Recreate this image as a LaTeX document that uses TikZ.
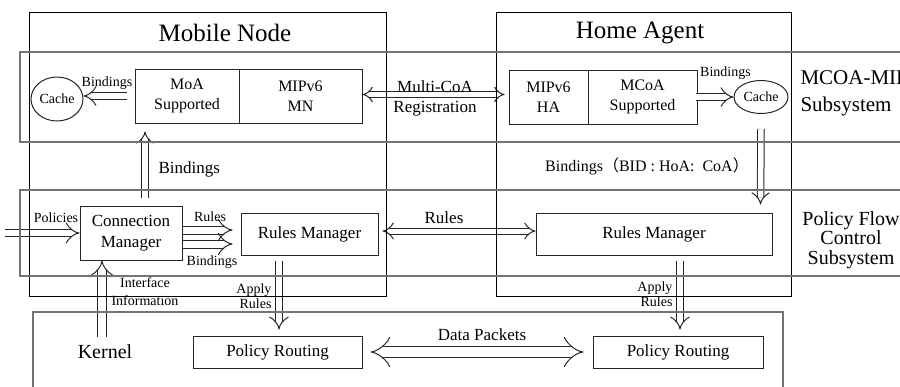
\documentclass[tikz,border=0pt]{standalone}
\usepackage{fontspec}
\setmainfont{Liberation Serif}
\newfontfamily\cjk{Noto Sans CJK SC}
\usetikzlibrary{positioning,shapes.geometric,arrows.meta}

\begin{document}
\begin{tikzpicture}[x=1pt,y=-1pt,
  f14/.style={font=\fontsize{14}{17}\selectfont},
  f16/.style={font=\fontsize{16}{20}\selectfont},
  f17/.style={font=\fontsize{17}{21}\selectfont},
  box/.style={draw=black!85,line width=1pt,inner sep=0pt,align=center},
  cache/.style={draw=black!85,line width=1pt,ellipse,inner sep=0pt,f14},
  dbl/.style={draw=black!85,line width=1pt,double=white,double distance=#1,-{Implies}},
  dbl/.default=6pt,
  dbltwo/.style={dbl=#1,{Implies}-{Implies}},
  dbltwo/.default=6pt,
  frame/.style={draw=black,line width=1pt},
  band/.style={draw=black!55,line width=1.4pt}]
  \useasboundingbox (0,0) rectangle (900,386);
  \clip (0,0) rectangle (900,386);

  % titles
  \node[font=\fontsize{25}{30}\selectfont] (mntitle) at (225,33) {Mobile Node};
  \node[font=\fontsize{25}{30}\selectfont] (hatitle) at (640,33) {Home Agent};
  \node[font=\fontsize{21}{27}\selectfont,align=left,anchor=west] (mcoasys) at (797,93.5) {MCOA-MIPv6\\Subsystem};
  \node[font=\fontsize{20}{19.5}\selectfont,align=center] (pfcsys) at (851,240) {Policy Flow\\Control\\Subsystem};

  % mcoa-mipv6 part
  \node[box,f16,minimum width=104,minimum height=54] (moa) at (187,96) {MoA\\Supported};
  \node[box,f16,minimum width=123,minimum height=54] (mipmn) at (300.5,96) {MIPv6\\MN};
  \node[box,f16,minimum width=79,minimum height=54] (mipha) at (548.5,97) {MIPv6\\HA};
  \node[box,f16,minimum width=109,minimum height=54] (mcoa) at (642.5,97) {MCoA\\Supported};
  \node[cache,minimum width=52,minimum height=44] (cacheL) at (57,99) {Cache};
  \node[cache,minimum width=54,minimum height=33] (cacheR) at (761,97) {Cache};

  % policy flow part
  \node[box,f17,minimum width=102,minimum height=54] (cm) at (131,233) {Connection\\Manager};
  \node[box,f17,minimum width=137,minimum height=42] (rmL) at (309.5,234) {Rules Manager};
  \node[box,f17,minimum width=236,minimum height=42] (rmR) at (654,234) {Rules Manager};

  % kernel part
  \node[box,f17,minimum width=169,minimum height=32] (prL) at (277.5,352) {Policy Routing};
  \node[box,f17,minimum width=170,minimum height=32] (prR) at (678,352) {Policy Routing};
  \node[font=\fontsize{20}{24}\selectfont] (kernel) at (105,352) {Kernel};
  \coordinate (pin) at (5,233);

  % arrows
  \draw[dbl] ([xshift=-8pt]moa.west) -- (cacheL.east |- moa.west);
  \node[f14] (bindL) at (107,83) {Bindings};
  \draw[dbltwo=4.5pt] ([yshift=1.5pt]mipmn.east) -- ([xshift=-4pt,yshift=2.5pt]mipha.west);
  \node[align=center,font=\fontsize{17}{20}\selectfont] (mcreg) at (435,98) {Multi-CoA\\Registration};
  \draw[dbl] ([xshift=-2pt]mcoa.east) -- (cacheR.west);
  \node[f14] (bindR) at (725.5,73) {Bindings};
  \draw[dbl=5.5pt] ([yshift=-15pt]cacheR.south) -- ([xshift=106.5pt,yshift=8pt]rmR.north);
  \node[f16] (bindha) at (647,166) {Bindings{\cjk （}BID : HoA:~ CoA{\cjk ）}};
  \draw[dbl=5.5pt] ([xshift=14pt,yshift=8pt]cm.north) -- ([xshift=-42pt,yshift=-8pt]moa.south);
  \node[f17,anchor=west] (bindup) at (155,169) {Bindings};

  \draw[dbl=6.5pt] (pin) -- (cm.west);
  \node[f14] (pol) at (56,218) {Policies};
  \draw[dbl=7pt] ([yshift=3pt]cm.east) -- ([xshift=-8pt,yshift=4pt]rmL.west);
  \draw[dbl=7pt] ([yshift=-11pt]cm.east) -- ([xshift=-8pt,yshift=-10pt]rmL.west);
  \node[f14] (rulsm) at (210,217) {Rules};
  \node[f14] (bindsm) at (212,262) {Bindings};
  \draw[dbltwo=5pt] ([xshift=4pt,yshift=3pt]rmL.east) -- ([yshift=3pt]rmR.west);
  \node[f17] (rulmid) at (444,218) {Rules};

  \draw[dbl=6pt] ([xshift=-30.5pt,yshift=-5pt]rmL.south) -- ([xshift=1.5pt,yshift=6pt]prL.north);
  \node[font=\fontsize{14}{15.5}\selectfont,align=right,anchor=east] (applyL) at (275,296) {Apply\\Rules};
  \draw[dbl=6pt] ([xshift=26pt,yshift=-5pt]rmR.south) -- ([xshift=2pt,yshift=6pt]prR.north);
  \node[font=\fontsize{14}{15.5}\selectfont,align=right,anchor=east] (applyR) at (676,294) {Apply\\Rules};
  \draw[dbl=7.5pt] ([xshift=-3pt,yshift=4pt]kernel.north) -- ([xshift=-29pt]cm.south);
  \node[font=\fontsize{14}{18}\selectfont,align=center] (iface) at (145,292) {Interface\\Information};
  \draw[dbltwo=10pt] ([xshift=8pt]prL.east) -- ([xshift=-9pt]prR.west);
  \node[f17] (data) at (482,335) {Data Packets};

  % frames
  \draw[frame] (29,12) rectangle (386,296);
  \draw[frame] (496,12) rectangle (791,296);
  \draw[band] (905,52) -- (20,52) -- (20,142) -- (905,142);
  \draw[band] (905,190) -- (20,190) -- (20,276) -- (905,276);
  \draw[band] (33,390) -- (33,312) -- (783,312) -- (783,390);
\end{tikzpicture}
\end{document}
